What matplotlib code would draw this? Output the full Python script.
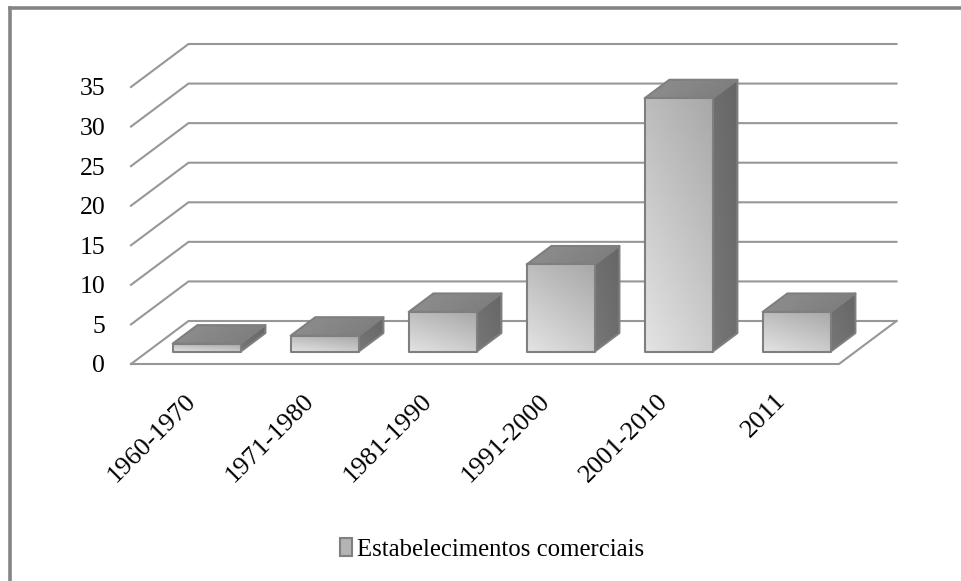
import numpy as np
import matplotlib
matplotlib.use("Agg")
import matplotlib.pyplot as plt
from matplotlib.patches import Polygon, Patch
from matplotlib.lines import Line2D
from matplotlib.transforms import ScaledTranslation

categories = ["1960-1970", "1971-1980", "1981-1990", "1991-2000", "2001-2010", "2011"]
values = [1, 2, 5, 11, 32, 5]
y_ticks = [0, 5, 10, 15, 20, 25, 30, 35]
legend_label = "Estabelecimentos comerciais"

W, H = 962, 581
plt.rcParams['font.family'] = ['Liberation Serif', 'DejaVu Serif']
fig = plt.figure(figsize=(W / 100, H / 100), dpi=100, facecolor='white')

# pseudo-3D box in pixels: front plane L..R, Y0..Y35, back plane shifted by SHIFT_X, SHIFT_Y
L, R, Y0, Y35 = 131, 839, 364, 87
SHIFT_X, SHIFT_Y = 57.5, 43
n = len(categories)
cat_px = (R - L) / n
val_px = (Y0 - Y35) / 35
DX = SHIFT_X / cat_px   # depth shift in category units
DY = SHIFT_Y / val_px   # depth shift in value units

ax = fig.add_axes([L / W, 1 - Y0 / H, (R - L + SHIFT_X + 2) / W, (Y0 - Y35 + SHIFT_Y + 2) / H])
ax.set_facecolor('none')
for s in ax.spines.values():
    s.set_visible(False)

GRID = '#979797'
EDGE = '#7f7f7f'
BAR_W = 68 / cat_px
D0, D1 = 0.29, 0.72


def proj(x, v, d):
    return (x + d * DX, v + d * DY)


def grad(poly, tl, tr, bl, br, z):
    poly = np.array(poly)
    x0, x1 = poly[:, 0].min(), poly[:, 0].max()
    y0, y1 = poly[:, 1].min(), poly[:, 1].max()
    u = np.linspace(0, 1, 40)
    v = np.linspace(0, 1, 40)
    uu, vv = np.meshgrid(u, v)
    img = (tl * (1 - uu) + tr * uu) * (1 - vv) + (bl * (1 - uu) + br * uu) * vv
    im = ax.imshow(img, extent=(x0, x1, y0, y1), origin='upper', cmap='gray', vmin=0, vmax=1,
                   aspect='auto', zorder=z, interpolation='bilinear')
    p = Polygon(poly, closed=True, facecolor='none', edgecolor=EDGE, lw=1.5, zorder=z + 0.1, joinstyle='round')
    ax.add_patch(p)
    im.set_clip_path(p)


# walls and floor grid
for t in y_ticks:
    a, b, c = proj(0, t, 0), proj(0, t, 1), proj(n, t, 1)
    ax.plot([a[0], b[0], c[0]], [a[1], b[1], c[1]], color=GRID, lw=1.5, zorder=1, clip_on=False,
            solid_joinstyle='miter')
f1, f2, f3 = proj(0, 0, 0), proj(n, 0, 0), proj(n, 0, 1)
ax.plot([f1[0], f2[0], f3[0]], [f1[1], f2[1], f3[1]], color=GRID, lw=1.5, zorder=1, clip_on=False)

# bars
for i, val in enumerate(values):
    xa = i + 0.5 - BAR_W / 2
    xb = i + 0.5 + BAR_W / 2
    fbl, fbr = proj(xa, 0, D0), proj(xb, 0, D0)
    ftl, ftr = proj(xa, val, D0), proj(xb, val, D0)
    bbr = proj(xb, 0, D1)
    btl, btr = proj(xa, val, D1), proj(xb, val, D1)
    z = 3 + i
    grad([ftl, btl, btr, ftr], 0.56, 0.50, 0.55, 0.48, z)
    grad([ftr, btr, bbr, fbr], 0.43, 0.40, 0.47, 0.43, z + 0.2)
    grad([fbl, fbr, ftr, ftl], 0.74, 0.66, 0.89, 0.80, z + 0.4)

ax.set_xlim(0, n + DX + 2 / cat_px)
ax.set_ylim(0, 35 + DY + 2 / val_px)
ax.set_yticks(y_ticks)
ax.set_yticklabels([str(t) for t in y_ticks], fontsize=18.5, color='black')
ax.set_xticks(np.arange(n) + 0.5)
ax.set_xticklabels(categories, fontsize=19, color='black', rotation=45, ha='right', va='top',
                   rotation_mode='anchor')
ax.tick_params(axis='both', length=0)
ax.tick_params(axis='y', pad=18.5)
ax.tick_params(axis='x', pad=18.5)
shift = ScaledTranslation(-5 / 100, 0, fig.dpi_scale_trans)
for lab in ax.get_xticklabels():
    lab.set_transform(lab.get_transform() + shift)

handle = Patch(facecolor='#b4b4b4', edgecolor='#808080', lw=1.5, label=legend_label)
fig.legend(handles=[handle], loc='center', bbox_to_anchor=(492 / W, 1 - 549.5 / H), frameon=False,
           fontsize=17.8, handlelength=0.5, handleheight=0.7, handletextpad=0.2, borderpad=0)

# outer frame: top and left edges only
FRAME = '#858585'
fig.add_artist(Line2D([9.5 / W, 9.5 / W], [0, 1 - 7.5 / H], color=FRAME, lw=2.6, solid_capstyle='projecting'))
fig.add_artist(Line2D([9.5 / W, 1], [1 - 7.5 / H, 1 - 7.5 / H], color=FRAME, lw=2.6, solid_capstyle='projecting'))

fig.savefig('out.png', dpi=100, facecolor='white')
